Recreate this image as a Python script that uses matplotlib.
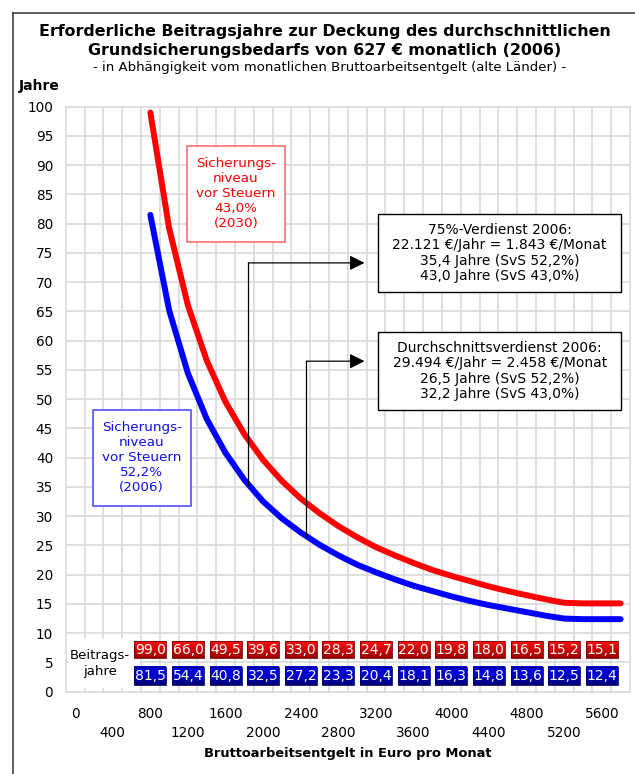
import matplotlib.pyplot as plt
import numpy as np
from matplotlib.colors import LinearSegmentedColormap
from matplotlib.lines import Line2D
from matplotlib.patches import Rectangle

# Bruttoarbeitsentgelt (Euro/Monat) und erforderliche Beitragsjahre
entgelt = [800, 1000, 1200, 1400, 1600, 1800, 2000, 2200, 2400, 2600, 2800, 3000, 3200,
           3400, 3600, 3800, 4000, 4200, 4400, 4600, 4800, 5000, 5200, 5400, 5600, 5800]
jahre_430 = [99.0, 79.2, 66.0, 56.6, 49.5, 44.0, 39.6, 36.0, 33.0, 30.5, 28.3, 26.4, 24.7,
             23.3, 22.0, 20.8, 19.8, 18.9, 18.0, 17.2, 16.5, 15.8, 15.2, 15.1, 15.1, 15.1]
jahre_522 = [81.5, 65.2, 54.4, 46.6, 40.8, 36.2, 32.5, 29.6, 27.2, 25.1, 23.3, 21.7, 20.4,
             19.2, 18.1, 17.2, 16.3, 15.5, 14.8, 14.2, 13.6, 13.0, 12.5, 12.4, 12.4, 12.4]

# Tabelle unten
tab_entgelt = [800, 1200, 1600, 2000, 2400, 2800, 3200, 3600, 4000, 4400, 4800, 5200, 5600]
tab_430 = [99.0, 66.0, 49.5, 39.6, 33.0, 28.3, 24.7, 22.0, 19.8, 18.0, 16.5, 15.2, 15.1]
tab_522 = [81.5, 54.4, 40.8, 32.5, 27.2, 23.3, 20.4, 18.1, 16.3, 14.8, 13.6, 12.5, 12.4]

# Markierte Verdienste
verdienst_75 = 1843
verdienst_75_jahre = 35.4
verdienst_avg = 2458
verdienst_avg_jahre = 26.5

xlabels_oben = [0, 800, 1600, 2400, 3200, 4000, 4800, 5600]
xlabels_unten = [400, 1200, 2000, 2800, 3600, 4400, 5200]

grid_col = '#d6d6d6'

fig = plt.figure(figsize=(6.35, 7.74), dpi=100)
ax = fig.add_axes([65.7 / 635, 1 - 691.7 / 774, (630 - 65.7) / 635, (691.7 - 106.7) / 774])

# Rahmen (nur links und oben sichtbar)
rx = 13.3 / 635
ry = 1 - 13.3 / 774
fig.add_artist(Line2D([rx, rx], [0, ry], transform=fig.transFigure, color='#333333', lw=1.1))
fig.add_artist(Line2D([rx, 1], [ry, ry], transform=fig.transFigure, color='#333333', lw=1.1))

ax.set_xlim(-100, 5900)
ax.set_ylim(0, 100)
for xv in np.arange(100, 5800, 200):
    ax.axvline(xv, color=grid_col, lw=1.1, zorder=0)
for yv in np.arange(5, 100, 5):
    ax.axhline(yv, color=grid_col, lw=1.1, zorder=0)
for s in ax.spines.values():
    s.set_color(grid_col)
    s.set_linewidth(1.1)

ax.plot(entgelt, jahre_430, color='#ff0000', lw=4.3, solid_capstyle='round', solid_joinstyle='round', zorder=4)
ax.plot(entgelt, jahre_522, color='#0000ff', lw=4.3, solid_capstyle='round', solid_joinstyle='round', zorder=4)

# Achsen
ax.set_yticks(np.arange(0, 101, 5))
ax.tick_params(axis='y', length=0, pad=9, labelsize=9.8)
ax.set_xticks(xlabels_oben)
ax.set_xticks(xlabels_unten, minor=True)
ax.set_xticklabels([str(v) for v in xlabels_oben])
ax.set_xticklabels([str(v) for v in xlabels_unten], minor=True)
ax.tick_params(axis='x', which='major', length=0, pad=11, labelsize=9.8)
ax.tick_params(axis='x', which='minor', length=0, pad=24.5, labelsize=9.8)

# Tabelle mit Farbverlauf
cm_rot = LinearSegmentedColormap.from_list('rot', ['#9a0000', '#ff1010'])
cm_blau = LinearSegmentedColormap.from_list('blau', ['#000070', '#0000d0', '#0000e0'])
grad = np.linspace(0, 1, 32).reshape(-1, 1)
breite = 340
for xv, r, b in zip(tab_entgelt, tab_430, tab_522):
    ax.imshow(grad, extent=[xv - breite / 2, xv + breite / 2, 5.8, 8.7], origin='lower',
              aspect='auto', cmap=cm_rot, zorder=5)
    ax.add_patch(Rectangle((xv - breite / 2, 5.8), breite, 2.9, fill=False, ec='#700000', lw=0.6, zorder=6))
    ax.text(xv, 7.2, f'{r:.1f}'.replace('.', ','), color='white', fontsize=10,
            ha='center', va='center', zorder=7)
    ax.imshow(grad, extent=[xv - breite / 2, xv + breite / 2, 1.1, 4.2], origin='lower',
              aspect='auto', cmap=cm_blau, zorder=5)
    ax.add_patch(Rectangle((xv - breite / 2, 1.1), breite, 3.1, fill=False, ec='#000060', lw=0.6, zorder=6))
    ax.text(xv, 2.65, f'{b:.1f}'.replace('.', ','), color='white', fontsize=10,
            ha='center', va='center', zorder=7)
ax.set_xlim(-100, 5900)
ax.set_ylim(0, 100)

ax.add_patch(Rectangle((-65, 0.8), 740, 8.2, color='white', zorder=2))
ax.text(265, 4.9, 'Beitrags-\njahre', fontsize=9.5, ha='center', va='center', linespacing=1.3, zorder=3)

# Beschriftungsboxen
ax.add_patch(Rectangle((1187, 76.9), 1046, 16.4, fc='white', ec='#ff6060', lw=1.1, zorder=3))
ax.text(1710, 85.1, 'Sicherungs-\nniveau\nvor Steuern\n43,0%\n(2030)', color='#ff0000', fontsize=9.7,
        ha='center', va='center', linespacing=1.2, zorder=3)
ax.add_patch(Rectangle((187, 31.7), 1043, 16.5, fc='white', ec='#4040ff', lw=1.1, zorder=3))
ax.text(708, 40.0, 'Sicherungs-\nniveau\nvor Steuern\n52,2%\n(2006)', color='#1010ee', fontsize=9.7,
        ha='center', va='center', linespacing=1.2, zorder=3)

ax.add_patch(Rectangle((3225, 68.3), 2579, 13.4, fc='white', ec='black', lw=1.0, zorder=3))
ax.text(4514, 75.0, '75%-Verdienst 2006:\n22.121 €/Jahr = 1.843 €/Monat\n'
        '35,4 Jahre (SvS 52,2%)\n43,0 Jahre (SvS 43,0%)', fontsize=10,
        ha='center', va='center', linespacing=1.13, zorder=4)
ax.add_patch(Rectangle((3225, 48.2), 2579, 13.3, fc='white', ec='black', lw=1.0, zorder=3))
ax.text(4514, 54.85, 'Durchschnittsverdienst 2006:\n29.494 €/Jahr = 2.458 €/Monat\n'
        '26,5 Jahre (SvS 52,2%)\n32,2 Jahre (SvS 43,0%)', fontsize=10,
        ha='center', va='center', linespacing=1.13, zorder=4)

# Pfeile
pfeil = dict(arrowstyle='-|>,head_length=0.9,head_width=0.45', color='black', lw=0.9,
             mutation_scale=10, shrinkA=0, shrinkB=0)
ax.plot([verdienst_75, verdienst_75], [verdienst_75_jahre, 73.3], color='black', lw=0.9, zorder=5)
ax.annotate('', xy=(3077, 73.3), xytext=(verdienst_75, 73.3), arrowprops=pfeil, zorder=5)
ax.plot([verdienst_avg, verdienst_avg], [verdienst_avg_jahre, 56.5], color='black', lw=0.9, zorder=5)
ax.annotate('', xy=(3077, 56.5), xytext=(verdienst_avg, 56.5), arrowprops=pfeil, zorder=5)

# Titel
fig.text(325 / 635, 1 - 31.7 / 774, 'Erforderliche Beitragsjahre zur Deckung des durchschnittlichen',
         fontsize=11.4, fontweight='bold', ha='center', va='center')
fig.text(325 / 635, 1 - 50 / 774, 'Grundsicherungsbedarfs von 627 € monatlich (2006)',
         fontsize=11.4, fontweight='bold', ha='center', va='center')
fig.text(330 / 635, 1 - 68 / 774, '- in Abhängigkeit vom monatlichen Bruttoarbeitsentgelt (alte Länder) -',
         fontsize=9.5, ha='center', va='center')
fig.text(19 / 635, 1 - 86 / 774, 'Jahre', fontsize=10, fontweight='bold', ha='left', va='center')
fig.text(348 / 635, 1 - 754 / 774, 'Bruttoarbeitsentgelt in Euro pro Monat', fontsize=9.4,
         fontweight='bold', ha='center', va='center')

fig.savefig('out.png', dpi=100)
